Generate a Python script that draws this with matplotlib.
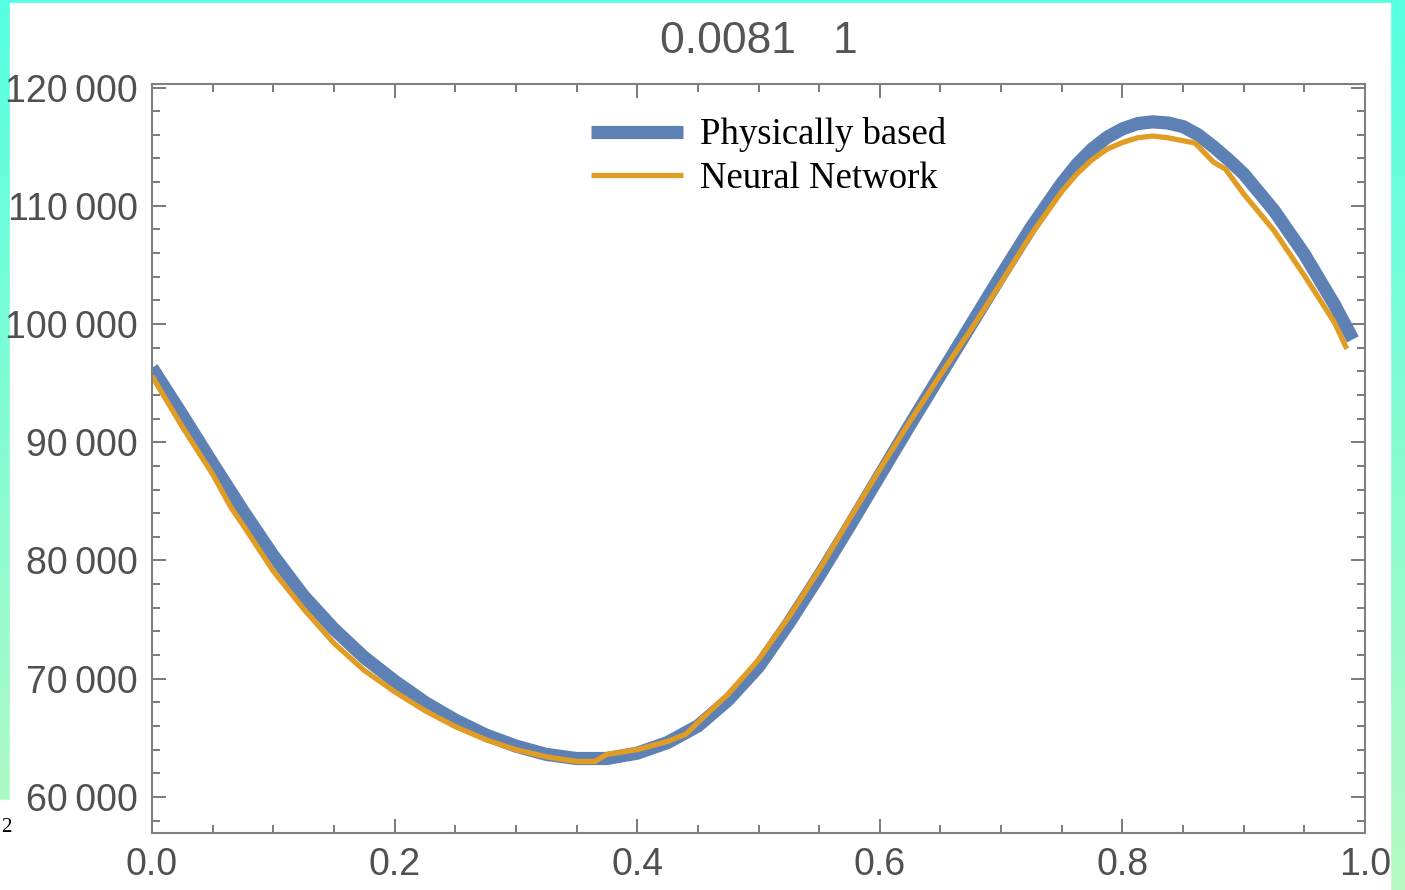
import numpy as np
import matplotlib
matplotlib.use("Agg")
import matplotlib.pyplot as plt
from matplotlib.ticker import MultipleLocator, FuncFormatter

# Physically based curve
x_phys = [0.000, 0.025, 0.050, 0.075, 0.100, 0.125, 0.150, 0.175, 0.200, 0.225,
          0.250, 0.275, 0.300, 0.325, 0.350, 0.375, 0.400, 0.425, 0.450, 0.475,
          0.500, 0.525, 0.550, 0.575, 0.600, 0.625, 0.650, 0.675, 0.700, 0.725,
          0.750, 0.7625, 0.775, 0.7875, 0.800, 0.8125, 0.825, 0.8375, 0.850, 0.8625,
          0.875, 0.8875, 0.900, 0.925, 0.950, 0.975, 0.990]
y_phys = [96300, 92300, 88200, 84200, 80400, 77000, 74200, 71800, 69800, 68000,
          66500, 65250, 64300, 63600, 63250, 63250, 63700, 64600, 66000, 68200,
          71000, 74700, 78700, 82900, 87200, 91500, 95700, 99900, 104100, 108200,
          111900, 113500, 114800, 115800, 116500, 116950, 117100, 117000, 116700, 116000,
          115000, 113900, 112700, 109600, 105900, 101600, 98700]

# Neural network curve
x_nn = [0.000, 0.025, 0.050, 0.065, 0.075, 0.100, 0.125, 0.150, 0.175, 0.200,
        0.225, 0.250, 0.275, 0.300, 0.325, 0.350, 0.365, 0.375, 0.400, 0.425,
        0.440, 0.450, 0.475, 0.500, 0.525, 0.550, 0.575, 0.600, 0.625, 0.650,
        0.675, 0.700, 0.725, 0.750, 0.7625, 0.775, 0.7875, 0.800, 0.8125, 0.825,
        0.8375, 0.850, 0.860, 0.875, 0.885, 0.900, 0.925, 0.950, 0.975, 0.985]
y_nn = [95600, 91300, 87300, 84500, 83000, 79100, 75900, 73000, 70700, 68900,
        67300, 65950, 64850, 64000, 63400, 63000, 63000, 63600, 64000, 64700,
        65300, 66300, 68700, 71600, 75200, 79200, 83500, 87700, 91800, 95700,
        99500, 103500, 107600, 111200, 112700, 113900, 114800, 115350, 115750, 115900,
        115750, 115500, 115300, 113700, 113100, 111000, 107900, 104100, 100100, 97900]

title = "0.0081   1"
labels = ["Physically based", "Neural Network"]
bg_colors = ["#55FFE2", "#B6F9C2"]

fig = plt.figure(figsize=(14.05, 8.9), dpi=100)

# gradient border behind the white panel
bg = fig.add_axes([0, 0, 1, 1], zorder=-10)
grad = np.linspace(0, 1, 256).reshape(-1, 1)
cmap = matplotlib.colors.LinearSegmentedColormap.from_list("bg", bg_colors)
bg.imshow(grad, aspect="auto", cmap=cmap, extent=[0, 1, 0, 1], origin="upper")
bg.add_patch(plt.Rectangle((10 / 1405, 0), 1380 / 1405, 887 / 890, color="white", zorder=2))
bg.add_patch(plt.Rectangle((0, 0), 12 / 1405, 90 / 890, color="white", zorder=2))
bg.set_xlim(0, 1)
bg.set_ylim(0, 1)
bg.axis("off")
fig.text(1 / 1405, 63 / 890, "2", fontsize=15, family="Liberation Serif", va="center", ha="left")

ax = fig.add_axes([152 / 1405, 57 / 890, 1213 / 1405, 749 / 890])
ax.set_facecolor("none")

ax.plot(x_phys, y_phys, color="#5E81B5", lw=9.5, solid_capstyle="butt",
        solid_joinstyle="round", label=labels[0])
ax.plot(x_nn, y_nn, color="#E19C24", lw=3.8, solid_capstyle="butt",
        solid_joinstyle="round", label=labels[1])

ax.set_xlim(0, 1)
ax.set_ylim(56950, 120300)

ax.xaxis.set_major_locator(MultipleLocator(0.2))
ax.xaxis.set_minor_locator(MultipleLocator(0.05))
ax.yaxis.set_major_locator(MultipleLocator(10000))
ax.yaxis.set_minor_locator(MultipleLocator(2000))
ax.yaxis.set_major_formatter(FuncFormatter(lambda v, p: f"{int(v):,}".replace(",", "\u2009")))
ax.xaxis.set_major_formatter(FuncFormatter(lambda v, p: f"{v:.1f}"))

ax.tick_params(which="both", direction="in", top=True, right=True, color="#707070", width=1.3)
ax.tick_params(which="major", length=10, labelsize=27, labelcolor="#505050", pad=10)
ax.tick_params(which="minor", length=6)
for lab in ax.get_xticklabels() + ax.get_yticklabels():
    lab.set_family("Liberation Sans")
for s in ax.spines.values():
    s.set_color("#808080")
    s.set_linewidth(1.5)

ax.set_title(title, fontsize=32, color="#555555", family="Liberation Sans", pad=22)

ax.legend(loc="upper left", bbox_to_anchor=(0.35, 0.975), frameon=False,
          prop={"family": "Liberation Serif", "size": 26.5}, handlelength=2.5,
          handletextpad=0.45, labelspacing=0.25, borderaxespad=0)

fig.savefig("out.png", dpi=100)
